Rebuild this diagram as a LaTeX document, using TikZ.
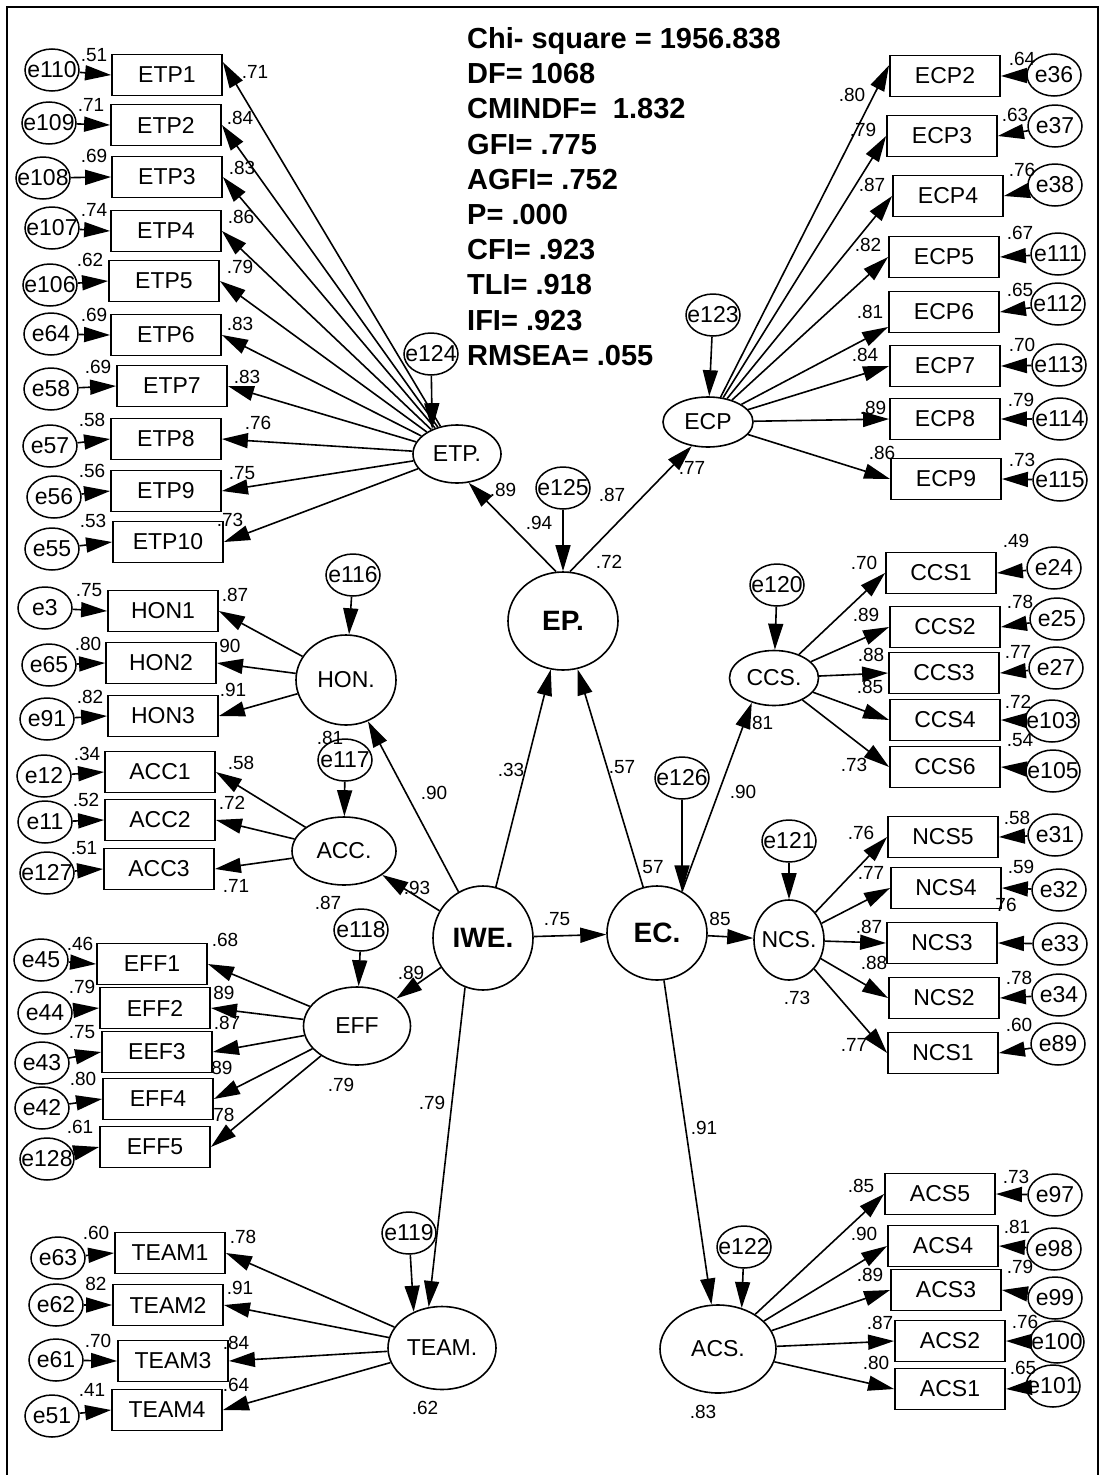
\documentclass[tikz,border=0pt]{standalone}
\usepackage{fontspec}
\setmainfont{Liberation Sans}
\usetikzlibrary{arrows.meta,shapes.geometric}
\newcommand{\ctext}[1]{\makebox[0pt]{#1}}

\begin{document}
\begin{tikzpicture}[
  x=1pt, y=-1pt,
  obs/.style={draw,line width=1.8pt,minimum width=110pt,minimum height=41pt,inner sep=0pt,font=\fontsize{23}{25}\selectfont},
  err/.style={ellipse,draw,line width=1.5pt,minimum width=54pt,minimum height=42pt,inner sep=0pt,font=\fontsize{23}{25}\selectfont},
  lat/.style={ellipse,draw,line width=1.6pt,inner sep=0pt,font=\fontsize{23}{25}\selectfont},
  big/.style={lat,font=\bfseries\fontsize{28}{30}\selectfont},
  coef/.style={inner sep=0pt,font=\fontsize{19}{21}\selectfont},
  stat/.style={inner sep=0pt,anchor=base west,font=\bfseries\fontsize{29}{32}\selectfont},
  lnk/.style={-{Triangle[length=26pt,width=15pt]},line width=1.6pt},
]
\useasboundingbox (0,0) rectangle (1102,1475);
\draw[line width=2pt] (7,1475) -- (7,7) -- (1098,7) -- (1098,1475);

% ===== fit indices =====
\foreach \t [count=\i] in {Chi- square = 1956.838, DF= 1068, CMINDF=\ \ 1.832, GFI= .775, AGFI= .752, P= .000, CFI= .923, TLI= .918, IFI= .923, RMSEA= .055}
  \node[stat] (fit\i) at (467,{48.4+35.2*(\i-1)}) {\t};

% ===== latent variables =====
\node[lat,minimum width=88pt,minimum height=58pt]   (etp)  at (457,454)  {\ctext{ETP.}};
\node[lat,minimum width=90pt,minimum height=50pt]   (ecp)  at (708,422)  {\ctext{ECP}};
\node[big,minimum width=110pt,minimum height=98pt]  (ep)   at (563,621)  {\ctext{EP.}};
\node[lat,minimum width=100pt,minimum height=90pt]  (hon)  at (346,680)  {\ctext{HON.}};
\node[lat,minimum width=104pt,minimum height=68pt]  (acc)  at (344,851)  {\ctext{ACC.}};
\node[lat,minimum width=107pt,minimum height=78pt]  (eff)  at (357,1026) {\ctext{EFF}};
\node[big,minimum width=100pt,minimum height=104pt] (iwe)  at (483,938)  {\ctext{IWE.}};
\node[lat,minimum width=108pt,minimum height=83pt]  (team) at (442,1348) {\ctext{TEAM.}};
\node[big,minimum width=100pt,minimum height=94pt]  (ec)   at (657,933)  {\ctext{EC.}};
\node[lat,minimum width=89pt,minimum height=55pt]   (ccs)  at (774,678)  {\ctext{CCS.}};
\node[lat,minimum width=70pt,minimum height=80pt]   (ncs)  at (789,940)  {\ctext{NCS.}};
\node[lat,minimum width=116pt,minimum height=88pt]  (acs)  at (718,1349) {\ctext{ACS.}};

% ===== observed items =====
\foreach \n/\t/\x/\y in {
  etp1/ETP1/167/75, etp2/ETP2/166/125, etp3/ETP3/167/177, etp4/ETP4/166/231, etp5/ETP5/164/281,
  etp6/ETP6/166/335, etp7/ETP7/172/386, etp8/ETP8/166/439, etp9/ETP9/166/491, etp10/ETP10/168/542,
  ecp2/ECP2/945/76, ecp3/ECP3/942/136, ecp4/ECP4/948/196, ecp5/ECP5/944/257,
  ecp6/ECP6/944/312, ecp7/ECP7/945/366, ecp8/ECP8/945/419, ecp9/ECP9/946/479,
  hon1/HON1/163/611, hon2/HON2/161/663, hon3/HON3/163/716,
  acc1/ACC1/160/772, acc2/ACC2/160/820, acc3/ACC3/159/869,
  eff1/EFF1/152/964, eff2/EFF2/155/1008, eff3/EEF3/157/1052, eff4/EFF4/158/1099, eff5/EFF5/155/1147,
  team1/TEAM1/170/1253, team2/TEAM2/168/1305, team3/TEAM3/173/1361, team4/TEAM4/167/1410,
  ccs1/CCS1/941/573, ccs2/CCS2/945/627, ccs3/CCS3/944/673, ccs4/CCS4/945/720, ccs6/CCS6/945/767,
  ncs5/NCS5/943/837, ncs4/NCS4/946/888, ncs3/NCS3/942/943, ncs2/NCS2/944/998, ncs1/NCS1/943/1053,
  acs5/ACS5/940/1194, acs4/ACS4/943/1246, acs3/ACS3/946/1290, acs2/ACS2/950/1341, acs1/ACS1/950/1389}
  \node[obs] (\n) at (\x,\y) {\t};

% ===== error terms =====
\foreach \n/\x/\y in {
  e110/52/70, e109/49/123, e108/43/178, e107/52/228, e106/50/285,
  e64/51/334, e58/51/389, e57/50/446, e56/54/497, e55/52/549,
  e36/1054/75, e37/1055/126, e38/1055/185, e111/1058/254, e112/1058/304,
  e113/1059/365, e114/1060/419, e115/1060/480,
  e3/45/608, e65/49/665, e91/47/719, e12/44/776, e11/45/822, e127/47/873,
  e45/41/960, e44/45/1013, e43/42/1063, e42/42/1108, e128/47/1159,
  e63/58/1258, e62/56/1305, e61/56/1360, e51/52/1416,
  e24/1054/568, e25/1057/619, e27/1056/668, e103/1052/721, e105/1053/771,
  e31/1055/835, e32/1059/890, e33/1060/944, e34/1059/995, e89/1058/1044,
  e97/1055/1195, e98/1054/1249, e99/1055/1298, e100/1057/1342, e101/1053/1386,
  e124/431/354, e123/713/315, e125/563/488, e116/353/575, e117/345/760,
  e118/361/930, e119/409/1233, e120/777/585, e121/789/841, e122/744/1247, e126/682/778}
  \node[err] (\n) at (\x,\y) {\ctext{\n}};

% ===== loadings =====
\draw[lnk] (etp) -- (etp1.13);
\foreach \b in {etp2,etp3,etp4,etp5,etp6,etp7,etp8,etp9,etp10} \draw[lnk] (etp) -- (\b.east);
\draw[lnk] (ecp) -- (ecp2.169);
\draw[lnk] (ecp) -- (ecp6.195);
\foreach \b in {ecp3,ecp4,ecp5,ecp7,ecp8,ecp9} \draw[lnk] (ecp) -- (\b.west);
\foreach \b in {hon1,hon2,hon3} \draw[lnk] (hon) -- (\b.east);
\foreach \b in {acc1,acc2,acc3} \draw[lnk] (acc) -- (\b.east);
\foreach \b in {eff1,eff2,eff3,eff4,eff5} \draw[lnk] (eff) -- (\b.east);
\foreach \b in {team1,team2,team3,team4} \draw[lnk] (team) -- (\b.east);
\foreach \b in {ccs1,ccs2,ccs3,ccs4,ccs6} \draw[lnk] (ccs) -- (\b.west);
\foreach \b in {ncs5,ncs4,ncs3,ncs2,ncs1} \draw[lnk] (ncs) -- (\b.west);
\foreach \b in {acs5,acs4,acs3,acs2,acs1} \draw[lnk] (acs) -- (\b.west);

% ===== residuals =====
\foreach \a/\b in {
  e110/etp1, e109/etp2, e108/etp3, e107/etp4, e106/etp5, e64/etp6, e58/etp7, e57/etp8, e56/etp9, e55/etp10,
  e3/hon1, e65/hon2, e91/hon3, e12/acc1, e11/acc2, e127/acc3,
  e45/eff1, e44/eff2, e43/eff3, e42/eff4, e128/eff5,
  e63/team1, e62/team2, e61/team3, e51/team4}
  \draw[lnk] (\a) -- (\b.west);
\foreach \a/\b in {
  e36/ecp2, e37/ecp3, e38/ecp4, e111/ecp5, e112/ecp6, e113/ecp7, e114/ecp8, e115/ecp9,
  e24/ccs1, e25/ccs2, e27/ccs3, e103/ccs4, e105/ccs6,
  e31/ncs5, e32/ncs4, e33/ncs3, e34/ncs2, e89/ncs1,
  e97/acs5, e98/acs4, e99/acs3, e100/acs2, e101/acs1}
  \draw[lnk] (\a) -- (\b.east);
\foreach \a/\b in {e123/ecp, e125/ep, e116/hon, e117/acc, e118/eff, e120/ccs, e121/ncs}
  \draw[lnk] (\a) -- (\b);
\draw[lnk] (e124) -- (etp.135);
\draw[lnk] (e119) -- (team.128);
\draw[lnk] (e122) -- (acs.60);
\draw[lnk] (e126) -- (ec.59);

% ===== structural paths =====
\draw[lnk] (iwe) -- (hon);
\draw[lnk] (iwe) -- (acc);
\draw[lnk] (iwe) -- (eff);
\draw[lnk] (iwe.250) -- (team.108);
\draw[lnk] (iwe) -- (ep);
\draw[lnk] (iwe) -- (ec);
\draw[lnk] (ec) -- (ep);
\draw[lnk] (ep.98) -- (etp.-68);
\draw[lnk] (ep.82) -- (ecp.236);
\draw[lnk] (ec.59) -- (ccs.228);
\draw[lnk] (ec) -- (ncs);
\draw[lnk] (ec) -- (acs);

% ===== estimates =====
\foreach \x/\y/\t [count=\i] in {
  94/55/.51, 91/105/.71, 94/156/.69, 94/210/.74, 90/260/.62, 94/315/.69, 98/367/.69, 92/420/.58, 92/471/.56, 93/521/.53,
  255/72/.71, 240/118/.84, 242/168/.83, 241/217/.86, 240/267/.79, 240/324/.83, 247/377/.83, 258/423/.76, 242/473/.75, 230/520/.73,
  852/95/.80, 863/130/.79, 872/185/.87, 868/245/.82, 870/312/.81, 865/355/.84, 873/408/.89, 882/453/.86,
  1022/59/.64, 1015/115/.63, 1022/170/.76, 1020/233/.67, 1020/290/.65, 1022/345/.70, 1021/400/.79, 1022/460/.73,
  503/490/.89, 539/523/.94, 612/495/.87, 692/468/.77, 609/562/.72, 511/770/.33, 622/767/.57, 434/793/.90,
  417/888/.93, 653/867/57, 557/919/.75, 720/919/85, 743/792/.90, 760/723/.81, 411/973/.89, 328/903/.87, 330/738/.81,
  89/590/.75, 235/595/.87, 88/644/.80, 230/646/90, 90/697/.82, 233/690/.91,
  87/754/.34, 241/763/.58, 86/800/.52, 232/803/.72, 84/848/.51, 236/886/.71,
  80/944/.46, 225/940/.68, 82/987/.79, 224/993/89, 82/1032/.75, 227/1023/.87, 83/1079/.80, 222/1068/89,
  80/1127/.61, 224/1115/78, 341/1085/.79, 432/1103/.79,
  96/1233/.60, 243/1237/.78, 96/1284/82, 240/1288/.91, 98/1341/.70, 236/1343/.84, 92/1390/.41, 236/1385/.64, 425/1408/.62,
  864/563/.70, 1016/541/.49, 866/615/.89, 1020/602/.78, 871/655/.88, 1018/652/.77, 870/687/.85, 1018/702/.72, 1020/740/.54, 854/765/.73,
  861/833/.76, 1017/818/.58, 871/873/.77, 1021/867/.59, 1006/905/76, 869/927/.87, 874/963/.88, 1019/978/.78, 797/998/.73, 854/1045/.77, 1019/1025/.60,
  704/1128/.91, 861/1186/.85, 1016/1177/.73, 864/1234/.90, 1017/1227/.81, 1020/1267/.79, 870/1275/.89, 880/1323/.87, 1025/1322/.76, 876/1363/.80, 1023/1368/.65, 703/1412/.83}
  \node[coef] (c\i) at (\x,\y) {\t};
\end{tikzpicture}
\end{document}
